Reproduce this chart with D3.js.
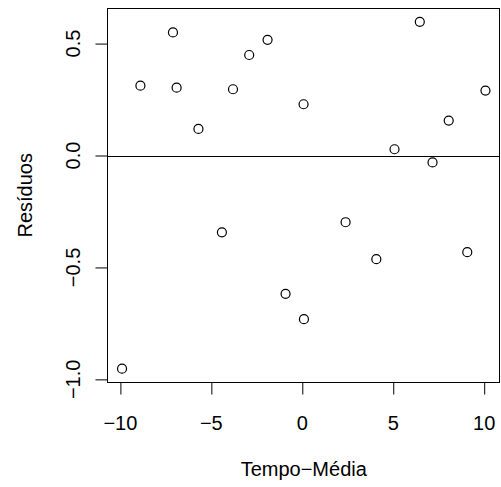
<!DOCTYPE html>
<html>
<head>
<meta charset="utf-8">
<script src="https://cdn.jsdelivr.net/npm/d3@7"></script>
<style>
  html, body { margin: 0; padding: 0; background: #fff; }
  svg { display: block; }
  text { font-family: "Liberation Sans", Arial, Helvetica, sans-serif; fill: #000; }
</style>
</head>
<body>
<svg id="chart" width="501" height="487"></svg>
<script>
// Residuals against centred time (Tempo − Média)
const tempoMedia = [-9.91, -8.9, -7.11, -6.91, -5.71, -3.81, -2.92, -1.91, 0.07, -4.42,
                    -0.92, 0.09, 2.38, 4.07, 9.07, 5.07, 6.46, 7.16, 8.05, 10.07];
const residuos   = [-0.952, 0.312, 0.550, 0.303, 0.119, 0.296, 0.449, 0.517, 0.229, -0.343,
                    -0.618, -0.731, -0.298, -0.463, -0.432, 0.028, 0.597, -0.031, 0.156, 0.290];
const xTicks = [-10, -5, 0, 5, 10];
const yTicks = [-1.0, -0.5, 0.0, 0.5];
const xTitle = "Tempo\u2212Média";
const yTitle = "Resíduos";

const fmtMinus = s => s.replace("-", "\u2212");

const plot = { left: 107.5, top: 8, right: 500, bottom: 382.5 };
const fontPx = 20;

// 4% padding on each side of the data range
function padded(values) {
  const [lo, hi] = d3.extent(values);
  const p = (hi - lo) * 0.04;
  return [lo - p, hi + p];
}

const x = d3.scaleLinear().domain(padded(tempoMedia)).range([plot.left, plot.right]);
const y = d3.scaleLinear().domain(padded(residuos)).range([plot.bottom, plot.top]);

const svg = d3.select("#chart");

// Bottom axis: ticks only, labels set below
const gx = svg.append("g")
  .attr("transform", `translate(0,${plot.bottom})`)
  .call(d3.axisBottom(x).tickValues(xTicks).tickSize(12).tickSizeOuter(0).tickFormat(""));
gx.select(".domain").attr("d", `M${x(xTicks[0])},0H${x(xTicks[xTicks.length - 1])}`);
gx.selectAll("line, path").attr("stroke", "#000").attr("stroke-width", 1);

svg.append("g").selectAll("text").data(xTicks).join("text")
  .attr("x", d => x(d))
  .attr("y", 429.5)
  .attr("text-anchor", "middle")
  .attr("font-size", fontPx)
  .text(d => fmtMinus(d3.format("d")(d)));

// Left axis
const gy = svg.append("g")
  .attr("transform", `translate(${plot.left},0)`)
  .call(d3.axisLeft(y).tickValues(yTicks).tickSize(12).tickSizeOuter(0).tickFormat(""));
gy.select(".domain").attr("d", `M0,${y(yTicks[0])}V${y(yTicks[yTicks.length - 1])}`);
gy.selectAll("line, path").attr("stroke", "#000").attr("stroke-width", 1);

svg.append("g").selectAll("text").data(yTicks).join("text")
  .attr("transform", d => `translate(79.5,${y(d)}) rotate(-90)`)
  .attr("text-anchor", "middle")
  .attr("font-size", fontPx)
  .text(d => fmtMinus(d3.format(".1f")(d)));

// Frame around the plotting region
svg.append("rect")
  .attr("x", plot.left).attr("y", plot.top + 0.5)
  .attr("width", plot.right - plot.left - 0.5)
  .attr("height", plot.bottom - plot.top - 0.5)
  .attr("fill", "none").attr("stroke", "#000").attr("stroke-width", 1);

// Reference line at zero
svg.append("line")
  .attr("x1", plot.left).attr("x2", plot.right)
  .attr("y1", Math.round(y(0)) + 0.5).attr("y2", Math.round(y(0)) + 0.5)
  .attr("stroke", "#000").attr("stroke-width", 1);

// Points
svg.append("g").selectAll("circle").data(tempoMedia.map((t, i) => [t, residuos[i]])).join("circle")
  .attr("cx", d => x(d[0]))
  .attr("cy", d => y(d[1]))
  .attr("r", 4.5)
  .attr("fill", "none")
  .attr("stroke", "#000")
  .attr("stroke-width", 1.2);

// Axis titles
svg.append("text")
  .attr("x", (plot.left + plot.right) / 2)
  .attr("y", 476)
  .attr("text-anchor", "middle")
  .attr("font-size", fontPx)
  .text(xTitle);

svg.append("text")
  .attr("transform", `translate(31.5,${(plot.top + plot.bottom) / 2}) rotate(-90)`)
  .attr("text-anchor", "middle")
  .attr("font-size", fontPx)
  .text(yTitle);
</script>
</body>
</html>
